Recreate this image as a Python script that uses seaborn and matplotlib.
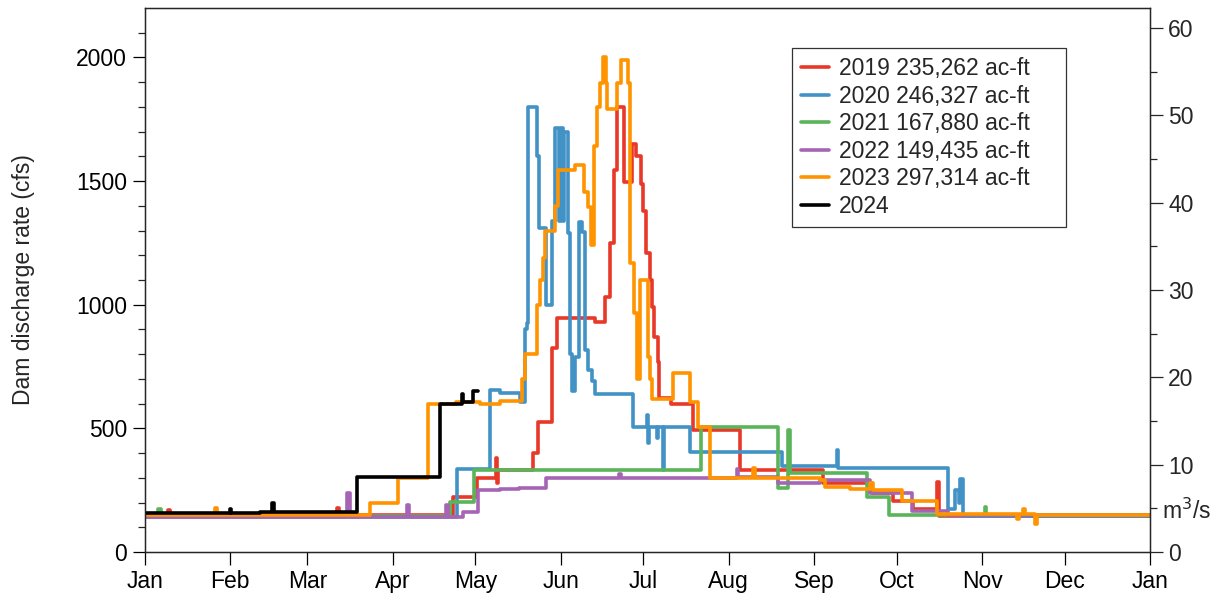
import numpy as np
import pandas as pd
import seaborn as sns
import matplotlib
matplotlib.use("Agg")
import matplotlib.pyplot as plt

# day of year (0 = Jan 1) where the release changes, and the new rate in cfs
days_2019 = [0, 8.4, 9.1, 69.7, 70.4, 111.9, 120.6, 127.3, 127.8, 128.2, 140.9, 142.8, 147.8, 149.7,
             163.5, 167.1, 168.9, 170.4, 171.4, 174.0, 176.9, 178.4, 180.2, 180.9, 182.0, 183.4,
             184.2, 184.9, 186.3, 186.7, 191.1, 199.1, 216.1, 246.3, 264.1, 271.7, 279.0, 287.7,
             288.4, 365]
cfs_2019 = [152, 170, 152, 178, 150, 222, 300, 380, 280, 331, 400, 525, 824, 945,
            930, 1030, 1250, 1545, 1800, 1495, 1650, 1600, 1490, 1380, 1210, 1100,
            990, 870, 770, 622, 600, 495, 331, 280, 238, 205, 175, 283,
            145, 145]

days_2020 = [0, 113.3, 125.3, 129.0, 136.2, 138.0, 138.8, 139.1, 142.4, 143.1, 145.7, 147.8, 148.9,
             150.5, 151.0, 151.8, 152.3, 153.7, 154.4, 155.2, 156.3, 157.5, 158.7, 159.8, 160.9,
             162.4, 163.5, 177.3, 182.3, 182.6, 183.0, 186.0, 186.4, 188.2, 188.5, 198.0, 231.4,
             251.4, 251.8, 291.7, 294.0, 295.5, 296.0, 297.0, 365]
cfs_2020 = [143, 335, 655, 645, 605, 900, 925, 1800, 1600, 1310, 1000, 1340, 1715,
            1340, 1715, 1340, 1700, 1290, 800, 650, 790, 1335, 1295, 815, 735,
            690, 640, 505, 555, 440, 505, 460, 505, 331, 505, 404, 348,
            412, 340, 175, 250, 200, 295, 145, 145]

days_2021 = [0, 4.7, 5.7, 110.8, 119.5, 202.0, 229.9, 233.6, 234.3, 262.3, 270.3, 305.1, 305.6, 365]
cfs_2021 = [146, 175, 146, 202, 331, 505, 260, 493, 320, 222, 150, 182, 150, 150]

days_2022 = [0, 73.4, 74.4, 95.2, 96.0, 109.3, 110.0, 115.5, 121.0, 129.0, 136.0, 145.7, 172.2,
             172.7, 215.0, 215.5, 229.9, 245.2, 263.3, 278.6, 291.7, 365]
cfs_2022 = [143, 240, 143, 190, 143, 190, 143, 162, 250, 255, 260, 300, 315,
            300, 335, 303, 279, 291, 238, 166, 150, 150]

days_2023 = [0, 25.4, 26.1, 81.7, 91.9, 102.8, 113.0, 121.7, 129.0, 136.9, 138.0, 142.4, 143.5,
             144.6, 145.3, 148.9, 150.0, 156.2, 159.5, 160.9, 162.0, 163.1, 164.2, 165.3, 166.4,
             167.5, 167.8, 171.4, 172.9, 175.4, 176.2, 177.6, 178.7, 179.8, 182.7, 183.4, 184.2,
             191.8, 198.0, 200.9, 205.2, 220.9, 221.5, 245.2, 247.0, 256.1, 263.3, 264.5, 275.0,
             287.7, 316.7, 317.5, 318.9, 319.5, 323.3, 323.8, 365]
cfs_2023 = [148, 178, 148, 200, 300, 600, 607, 598, 610, 700, 800, 1000, 1100,
            1190, 1300, 1400, 1545, 1565, 1455, 1395, 1240, 1640, 1800, 1895, 2000,
            1895, 1790, 1895, 1990, 1895, 1170, 965, 700, 1100, 790, 700, 620,
            725, 605, 505, 300, 340, 298, 290, 262, 255, 279, 250, 206,
            154, 135, 152, 174, 152, 115, 150, 150]

days_2024 = [0, 30.9, 31.4, 41.8, 46.1, 47.0, 77.0, 107.2, 115.1, 115.6, 119.1, 121.0]
cfs_2024 = [157, 175, 157, 162, 198, 162, 303, 600, 640, 605, 650, 650]

labels = ["2019 235,262 ac-ft", "2020 246,327 ac-ft", "2021 167,880 ac-ft",
          "2022 149,435 ac-ft", "2023 297,314 ac-ft", "2024"]
colors = ["#E83828", "#4292C6", "#5AB45A", "#A564B4", "#FF9400", "#000000"]

month_days = [0, 31, 59, 90, 120, 151, 181, 212, 243, 273, 304, 334, 365]
month_names = ["Jan", "Feb", "Mar", "Apr", "May", "Jun", "Jul", "Aug", "Sep", "Oct", "Nov", "Dec", "Jan"]

CFS_TO_M3S = 0.0283168

frames = []
for lab, d, v in zip(labels,
                     [days_2019, days_2020, days_2021, days_2022, days_2023, days_2024],
                     [cfs_2019, cfs_2020, cfs_2021, cfs_2022, cfs_2023, cfs_2024]):
    frames.append(pd.DataFrame({"day": d, "cfs": v, "year": lab}))
df = pd.concat(frames, ignore_index=True)

sns.set_style("ticks")
plt.rcParams["font.family"] = ["Liberation Sans", "DejaVu Sans"]
fs = 16.5

fig = plt.figure(figsize=(12.25, 5.95), dpi=100)
ax = fig.add_axes([145 / 1225, 43 / 595, 1005 / 1225, 544 / 595])

sns.lineplot(data=df, x="day", y="cfs", hue="year", hue_order=labels, palette=colors,
             estimator=None, sort=False, drawstyle="steps-post", linewidth=2.6, ax=ax)

ax.set_xlim(0, 365)
ax.set_ylim(0, 2200)
ax.set_xticks(month_days)
ax.set_xticklabels(month_names)
ax.set_yticks([0, 500, 1000, 1500, 2000])
ax.set_yticks(np.arange(100, 2200, 100), minor=True)
ax.set_xlabel("")
ax.set_ylabel("Dam discharge rate (cfs)", fontsize=fs)
ax.yaxis.set_label_coords(-0.109, 0.5)

for s in ax.spines.values():
    s.set_visible(True)
    s.set_linewidth(0.9)
    s.set_color("black")

ax.tick_params(axis="both", which="major", direction="out", length=9, width=0.9,
               labelsize=fs, pad=4, colors="black")
ax.tick_params(axis="y", which="minor", direction="out", length=5, width=0.9)

ax2 = ax.twinx()
ax2.set_ylim(0, 2200 * CFS_TO_M3S)
ax2.set_yticks([0, 10, 20, 30, 40, 50, 60])
ax2.set_yticks([5, 15, 25, 35, 45, 55], minor=True)
ax2.set_yticklabels(["m$^3$/s", "", "", "", "", ""], minor=True)
ax2.tick_params(axis="y", which="major", direction="out", length=9, width=0.9,
                labelsize=fs, pad=4)
ax2.tick_params(axis="y", which="minor", direction="out", length=5, width=0.9,
                labelsize=fs, pad=4)
for s in ax2.spines.values():
    s.set_linewidth(0.9)

sns.move_legend(ax, "upper left", bbox_to_anchor=(0.6438, 0.0, 0.2726, 0.9265),
                mode="expand", borderaxespad=0, title=None, frameon=True, fancybox=False,
                fontsize=fs, handlelength=1.2, handletextpad=0.45, labelspacing=0.2,
                borderpad=0.4, framealpha=1, edgecolor="#333333")
leg = ax.get_legend()
leg.get_frame().set_linewidth(0.9)
for h in leg.legend_handles:
    h.set_linewidth(2.6)

fig.savefig("out.png", dpi=100)
